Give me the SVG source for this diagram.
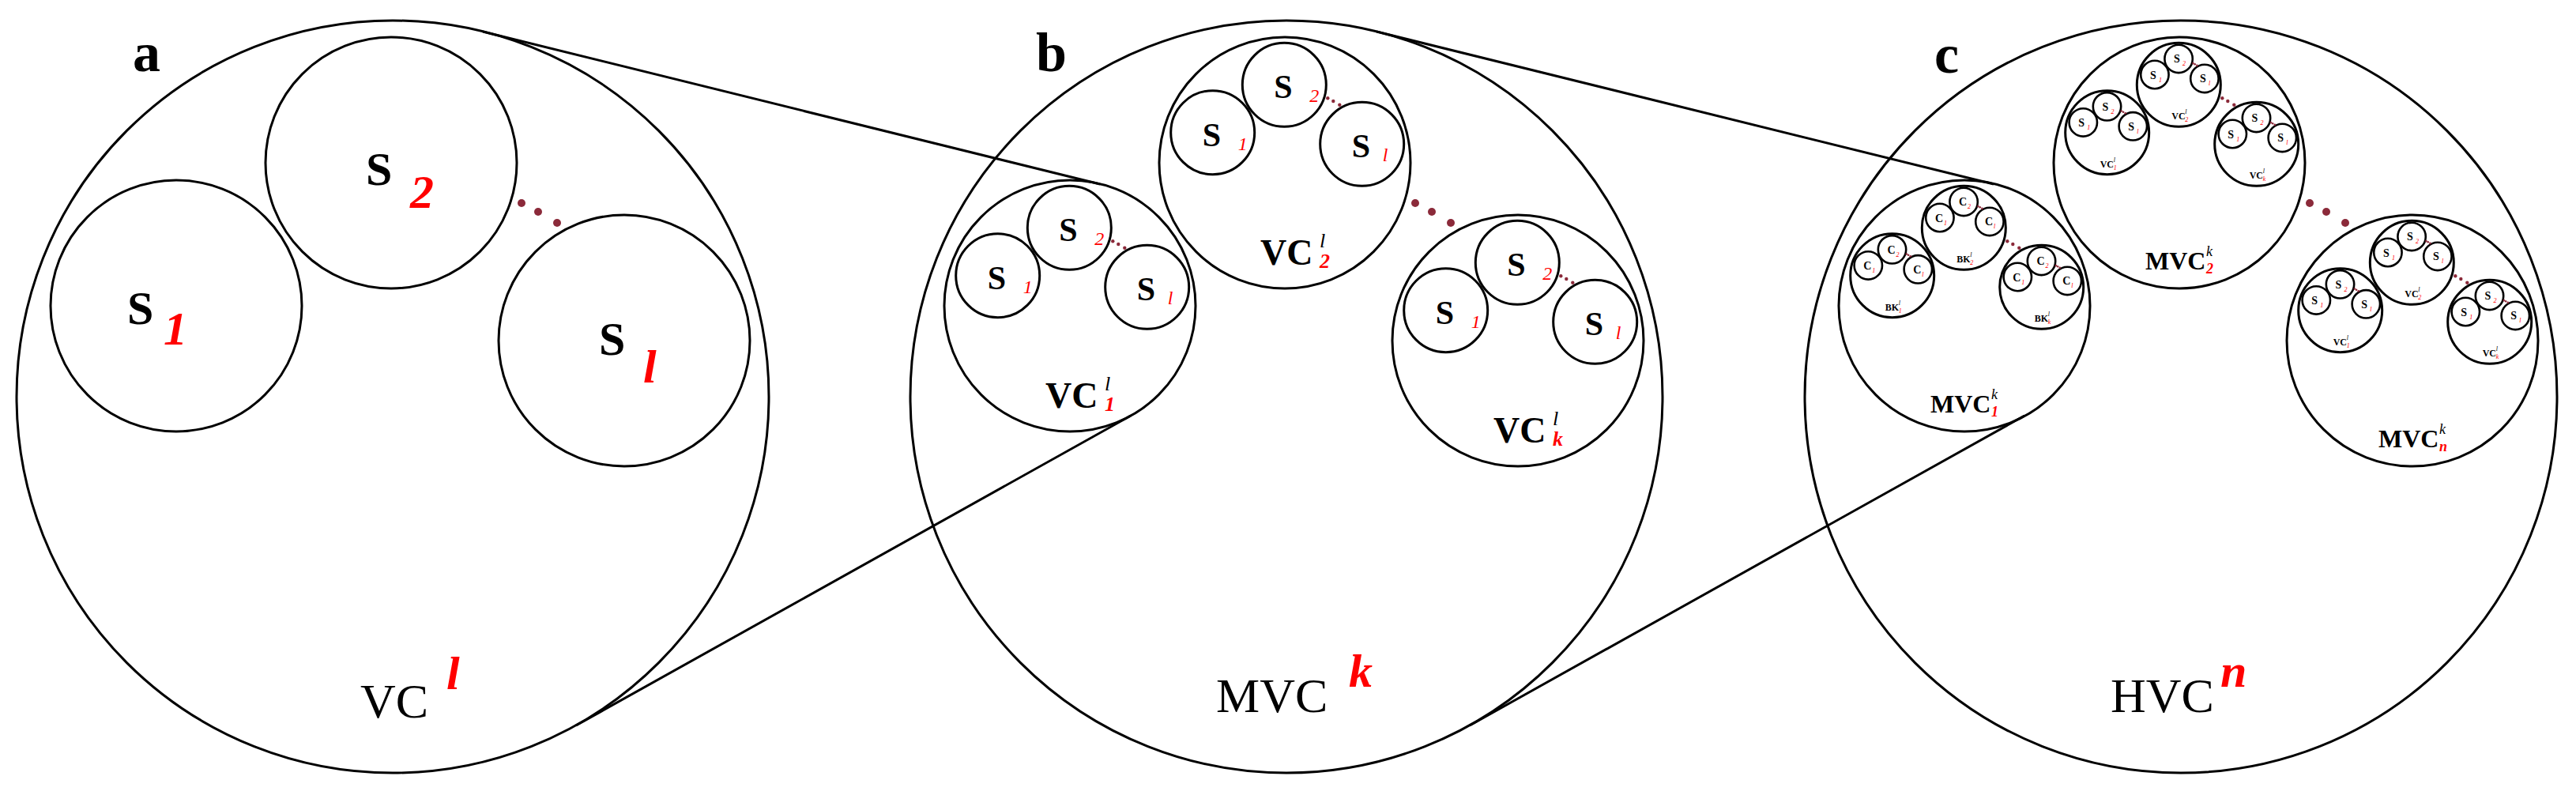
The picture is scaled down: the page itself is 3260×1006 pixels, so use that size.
<svg xmlns="http://www.w3.org/2000/svg" width="3260" height="1006" viewBox="0 0 3260 1006">
<style>
circle{fill:none;stroke:#000;stroke-width:3}
.d{fill:#8b2a3a;stroke:none}
text{font-family:"Liberation Serif","Times New Roman",serif}
.big{font-size:70px;font-weight:bold}
.s0{font-size:60px;font-weight:bold}
.r0{font-size:60px;font-weight:bold;font-style:italic;fill:#ff0000}
.L0{font-size:62px}
.sup0{font-size:60px;font-weight:bold;font-style:italic;fill:#ff0000}
.t1{font-size:46px;font-weight:bold}
.sp1{font-size:26px;font-style:italic}
.r1{font-size:26px;font-style:italic;font-weight:bold;fill:#ff0000}
.s2{font-size:42px;font-weight:bold}
.r2{font-size:24px;font-style:italic;fill:#ff0000}
.m1{font-size:32px;font-weight:bold}
.sp1c{font-size:18px;font-style:italic}
.r1c{font-size:18px;font-style:italic;font-weight:bold;fill:#ff0000}
.t2{font-size:12px;font-weight:bold}
.sp2{font-size:8px;font-style:italic}
.r2c{font-size:8px;font-style:italic;fill:#ff0000}
.t3{font-size:14px;font-weight:bold}
.r3{font-size:8px;font-style:italic;fill:#ff0000}
.c3{stroke-width:2.6}
</style>
<defs>
<g id="dots0"><circle class="d" cx="163" cy="-245" r="5"/><circle class="d" cx="184" cy="-234" r="5"/><circle class="d" cx="208" cy="-220" r="5"/></g>
<g id="dots1"><circle class="d" cx="54.3" cy="-81.7" r="2.2"/><circle class="d" cx="61.3" cy="-78" r="2.2"/><circle class="d" cx="69.3" cy="-73.3" r="2.2"/></g>
<g id="dots2"><circle class="d" cx="18.1" cy="-27.2" r="1.3"/><circle class="d" cx="20.4" cy="-26" r="1.3"/><circle class="d" cx="23.1" cy="-24.4" r="1.3"/></g>
</defs>

<g id="connectors" stroke="#000" stroke-width="3" fill="none">
<line x1="611" y1="40" x2="1392" y2="233"/>
<line x1="729" y1="918" x2="1431" y2="526"/>
<line x1="1742" y1="40" x2="2523" y2="233"/>
<line x1="1860" y1="918" x2="2562" y2="526"/>
</g>

<text class="big" x="168" y="90">a</text>
<text class="big" x="1311" y="90">b</text>
<text class="big" x="2448" y="92">c</text>

<g id="panel-a" transform="translate(497,502)">
<circle r="476"/>
<g id="a-s1" transform="translate(-274,-115)"><circle r="159"/><text class="s0" x="-62" y="23">S</text><text class="r0" x="-16" y="49">1</text></g>
<g id="a-s2" transform="translate(-2,-296)"><circle r="159"/><text class="s0" x="-32" y="28">S</text><text class="r0" x="24" y="57">2</text></g>
<g id="a-sl" transform="translate(293,-71)"><circle r="159"/><text class="s0" x="-32" y="18">S</text><text class="r0" x="24" y="53">l</text></g>
<use href="#dots0"/>
<text class="L0" x="-41" y="406">VC</text><text class="sup0" x="68" y="370">l</text>
</g>

<g id="panel-b" transform="translate(1628,502)">
<circle r="476"/>
<g id="b-vc1" transform="translate(-274,-115)"><circle r="159"/>
<g transform="translate(-91.3,-38.3)"><circle r="53"/><text class="s2" x="-13" y="17">S</text><text class="r2" x="32" y="22">1</text></g>
<g transform="translate(-0.7,-98.7)"><circle r="53"/><text class="s2" x="-13" y="17">S</text><text class="r2" x="32" y="22">2</text></g>
<g transform="translate(97.7,-23.7)"><circle r="53"/><text class="s2" x="-13" y="17">S</text><text class="r2" x="26" y="22">l</text></g>
<use href="#dots1"/>
<text class="t1" x="-31" y="129">VC</text><text class="sp1" x="44" y="107">l</text><text class="r1" x="44" y="133">1</text>
</g>
<g id="b-vc2" transform="translate(-2,-296)"><circle r="159"/>
<g transform="translate(-91.3,-38.3)"><circle r="53"/><text class="s2" x="-13" y="17">S</text><text class="r2" x="32" y="22">1</text></g>
<g transform="translate(-0.7,-98.7)"><circle r="53"/><text class="s2" x="-13" y="17">S</text><text class="r2" x="32" y="22">2</text></g>
<g transform="translate(97.7,-23.7)"><circle r="53"/><text class="s2" x="-13" y="17">S</text><text class="r2" x="26" y="22">l</text></g>
<use href="#dots1"/>
<text class="t1" x="-31" y="129">VC</text><text class="sp1" x="44" y="107">l</text><text class="r1" x="44" y="133">2</text>
</g>
<g id="b-vck" transform="translate(293,-71)"><circle r="159"/>
<g transform="translate(-91.3,-38.3)"><circle r="53"/><text class="s2" x="-13" y="17">S</text><text class="r2" x="32" y="22">1</text></g>
<g transform="translate(-0.7,-98.7)"><circle r="53"/><text class="s2" x="-13" y="17">S</text><text class="r2" x="32" y="22">2</text></g>
<g transform="translate(97.7,-23.7)"><circle r="53"/><text class="s2" x="-13" y="17">S</text><text class="r2" x="26" y="22">l</text></g>
<use href="#dots1"/>
<text class="t1" x="-31" y="129">VC</text><text class="sp1" x="44" y="107">l</text><text class="r1" x="44" y="133">k</text>
</g>
<use href="#dots0"/>
<text class="L0" x="-89" y="399">MVC</text><text class="sup0" x="79" y="367">k</text>
</g>

<g id="panel-c" transform="translate(2760,502)">
<circle r="476"/>
<g id="c-mvc1" transform="translate(-274,-115)"><circle r="159"/>
<g transform="translate(-91.3,-38.3)"><circle r="53"/>
<g transform="translate(-30.4,-12.8)"><circle class="c3" r="17.7"/><text class="t3" x="-6" y="5">C</text><text class="r3" x="5" y="9">1</text></g>
<g transform="translate(-0.2,-32.9)"><circle class="c3" r="17.7"/><text class="t3" x="-6" y="5">C</text><text class="r3" x="5" y="9">2</text></g>
<g transform="translate(32.6,-7.9)"><circle class="c3" r="17.7"/><text class="t3" x="-6" y="5">C</text><text class="r3" x="5" y="9">l</text></g>
<use href="#dots2"/><text class="t2" x="-9" y="44">BK</text><text class="sp2" x="8" y="37">l</text><text class="r2c" x="8" y="47">1</text>
</g>
<g transform="translate(-0.7,-98.7)"><circle r="53"/>
<g transform="translate(-30.4,-12.8)"><circle class="c3" r="17.7"/><text class="t3" x="-6" y="5">C</text><text class="r3" x="5" y="9">1</text></g>
<g transform="translate(-0.2,-32.9)"><circle class="c3" r="17.7"/><text class="t3" x="-6" y="5">C</text><text class="r3" x="5" y="9">2</text></g>
<g transform="translate(32.6,-7.9)"><circle class="c3" r="17.7"/><text class="t3" x="-6" y="5">C</text><text class="r3" x="5" y="9">l</text></g>
<use href="#dots2"/><text class="t2" x="-9" y="44">BK</text><text class="sp2" x="8" y="37">l</text><text class="r2c" x="8" y="47">2</text>
</g>
<g transform="translate(97.7,-23.7)"><circle r="53"/>
<g transform="translate(-30.4,-12.8)"><circle class="c3" r="17.7"/><text class="t3" x="-6" y="5">C</text><text class="r3" x="5" y="9">1</text></g>
<g transform="translate(-0.2,-32.9)"><circle class="c3" r="17.7"/><text class="t3" x="-6" y="5">C</text><text class="r3" x="5" y="9">2</text></g>
<g transform="translate(32.6,-7.9)"><circle class="c3" r="17.7"/><text class="t3" x="-6" y="5">C</text><text class="r3" x="5" y="9">l</text></g>
<use href="#dots2"/><text class="t2" x="-9" y="44">BK</text><text class="sp2" x="8" y="37">l</text><text class="r2c" x="8" y="47">k</text>
</g>
<use href="#dots1"/>
<text class="m1" x="-43" y="135">MVC</text><text class="sp1c" x="34" y="118">k</text><text class="r1c" x="34" y="140">1</text>
</g>
<g id="c-mvc2" transform="translate(-2,-296)"><circle r="159"/>
<g transform="translate(-91.3,-38.3)"><circle r="53"/>
<g transform="translate(-30.4,-12.8)"><circle class="c3" r="17.7"/><text class="t3" x="-6" y="5">S</text><text class="r3" x="5" y="9">1</text></g>
<g transform="translate(-0.2,-32.9)"><circle class="c3" r="17.7"/><text class="t3" x="-6" y="5">S</text><text class="r3" x="5" y="9">2</text></g>
<g transform="translate(32.6,-7.9)"><circle class="c3" r="17.7"/><text class="t3" x="-6" y="5">S</text><text class="r3" x="5" y="9">l</text></g>
<use href="#dots2"/><text class="t2" x="-9" y="44">VC</text><text class="sp2" x="8" y="37">l</text><text class="r2c" x="8" y="47">1</text>
</g>
<g transform="translate(-0.7,-98.7)"><circle r="53"/>
<g transform="translate(-30.4,-12.8)"><circle class="c3" r="17.7"/><text class="t3" x="-6" y="5">S</text><text class="r3" x="5" y="9">1</text></g>
<g transform="translate(-0.2,-32.9)"><circle class="c3" r="17.7"/><text class="t3" x="-6" y="5">S</text><text class="r3" x="5" y="9">2</text></g>
<g transform="translate(32.6,-7.9)"><circle class="c3" r="17.7"/><text class="t3" x="-6" y="5">S</text><text class="r3" x="5" y="9">l</text></g>
<use href="#dots2"/><text class="t2" x="-9" y="44">VC</text><text class="sp2" x="8" y="37">l</text><text class="r2c" x="8" y="47">2</text>
</g>
<g transform="translate(97.7,-23.7)"><circle r="53"/>
<g transform="translate(-30.4,-12.8)"><circle class="c3" r="17.7"/><text class="t3" x="-6" y="5">S</text><text class="r3" x="5" y="9">1</text></g>
<g transform="translate(-0.2,-32.9)"><circle class="c3" r="17.7"/><text class="t3" x="-6" y="5">S</text><text class="r3" x="5" y="9">2</text></g>
<g transform="translate(32.6,-7.9)"><circle class="c3" r="17.7"/><text class="t3" x="-6" y="5">S</text><text class="r3" x="5" y="9">l</text></g>
<use href="#dots2"/><text class="t2" x="-9" y="44">VC</text><text class="sp2" x="8" y="37">l</text><text class="r2c" x="8" y="47">k</text>
</g>
<use href="#dots1"/>
<text class="m1" x="-43" y="135">MVC</text><text class="sp1c" x="34" y="118">k</text><text class="r1c" x="34" y="140">2</text>
</g>
<g id="c-mvcn" transform="translate(293,-71)"><circle r="159"/>
<g transform="translate(-91.3,-38.3)"><circle r="53"/>
<g transform="translate(-30.4,-12.8)"><circle class="c3" r="17.7"/><text class="t3" x="-6" y="5">S</text><text class="r3" x="5" y="9">1</text></g>
<g transform="translate(-0.2,-32.9)"><circle class="c3" r="17.7"/><text class="t3" x="-6" y="5">S</text><text class="r3" x="5" y="9">2</text></g>
<g transform="translate(32.6,-7.9)"><circle class="c3" r="17.7"/><text class="t3" x="-6" y="5">S</text><text class="r3" x="5" y="9">l</text></g>
<use href="#dots2"/><text class="t2" x="-9" y="44">VC</text><text class="sp2" x="8" y="37">l</text><text class="r2c" x="8" y="47">1</text>
</g>
<g transform="translate(-0.7,-98.7)"><circle r="53"/>
<g transform="translate(-30.4,-12.8)"><circle class="c3" r="17.7"/><text class="t3" x="-6" y="5">S</text><text class="r3" x="5" y="9">1</text></g>
<g transform="translate(-0.2,-32.9)"><circle class="c3" r="17.7"/><text class="t3" x="-6" y="5">S</text><text class="r3" x="5" y="9">2</text></g>
<g transform="translate(32.6,-7.9)"><circle class="c3" r="17.7"/><text class="t3" x="-6" y="5">S</text><text class="r3" x="5" y="9">l</text></g>
<use href="#dots2"/><text class="t2" x="-9" y="44">VC</text><text class="sp2" x="8" y="37">l</text><text class="r2c" x="8" y="47">2</text>
</g>
<g transform="translate(97.7,-23.7)"><circle r="53"/>
<g transform="translate(-30.4,-12.8)"><circle class="c3" r="17.7"/><text class="t3" x="-6" y="5">S</text><text class="r3" x="5" y="9">1</text></g>
<g transform="translate(-0.2,-32.9)"><circle class="c3" r="17.7"/><text class="t3" x="-6" y="5">S</text><text class="r3" x="5" y="9">2</text></g>
<g transform="translate(32.6,-7.9)"><circle class="c3" r="17.7"/><text class="t3" x="-6" y="5">S</text><text class="r3" x="5" y="9">l</text></g>
<use href="#dots2"/><text class="t2" x="-9" y="44">VC</text><text class="sp2" x="8" y="37">l</text><text class="r2c" x="8" y="47">k</text>
</g>
<use href="#dots1"/>
<text class="m1" x="-43" y="135">MVC</text><text class="sp1c" x="34" y="118">k</text><text class="r1c" x="34" y="140">n</text>
</g>
<use href="#dots0"/>
<text class="L0" x="-89" y="399">HVC</text><text class="sup0" x="50" y="367">n</text>
</g>
</svg>
